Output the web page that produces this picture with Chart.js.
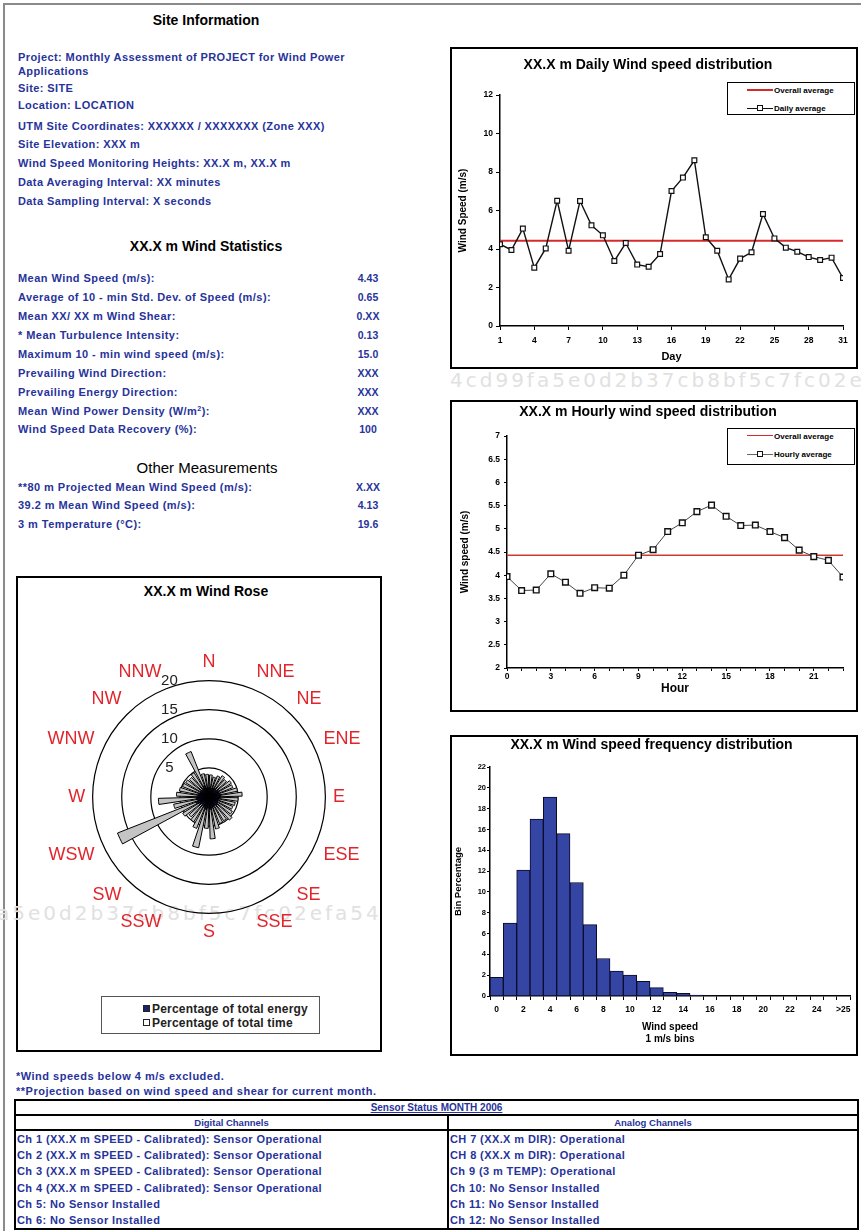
<!DOCTYPE html>
<html>
<head>
<meta charset="utf-8">
<title>Monthly wind assessment</title>
<script src="https://cdn.jsdelivr.net/npm/chart.js@4.4.1/dist/chart.umd.min.js"></script>
<style>
  html, body { margin: 0; padding: 0; background: #fff; }
  body { width: 861px; height: 1231px; position: relative; overflow: hidden; font-family: "Liberation Sans", Arial, sans-serif; }
  .frame { position: absolute; left: 3px; top: 3px; width: 870px; height: 1240px; border-left: 2px solid #8a8a8a; border-top: 2px solid #8a8a8a; }
  .t { position: absolute; white-space: nowrap; transform: translateY(-50%); }
  .head { font-weight: bold; font-size: 14px; color: #000; transform: translate(-50%, -50%); }
  .info { left: 18px; font-weight: bold; font-size: 11px; letter-spacing: 0.4px; color: #27339b; }
  .stat { left: 18px; font-weight: bold; font-size: 11px; letter-spacing: 0.45px; color: #27339b; }
  .val { left: 368px; font-weight: bold; font-size: 10.5px; color: #27339b; transform: translate(-50%, -50%); }
  .note { left: 16px; font-weight: bold; font-size: 11px; letter-spacing: 0.5px; color: #27339b; }
  .box { position: absolute; border: 2px solid #000; background: #fff; box-sizing: border-box; }
  canvas { position: absolute; }
  .wm { position: absolute; white-space: nowrap; font-family: "DejaVu Sans", sans-serif; font-size: 20px; letter-spacing: 3px; color: #e1e1e1; line-height: 20px; }
  .lg { position: absolute; border: 1px solid #000; background: #fff; box-sizing: border-box; font-weight: bold; font-size: 8px; color: #000; }
  .lg .row { position: absolute; left: 0; right: 0; height: 0; }
  .lg .ln { position: absolute; left: 19px; width: 26px; top: -1px; border-top: 2px solid #d7282c; }
  .lg .ln.thin { border-top: 1px solid #333; top: 0; }
  .lg .mk { position: absolute; left: 29px; top: -3px; width: 4px; height: 4px; border: 1px solid #111; background: #fff; }
  .lg .tx { position: absolute; left: 46px; top: 0; transform: translateY(-50%); white-space: nowrap; }
  .roselg { position: absolute; left: 101px; top: 996px; width: 219px; height: 38px; border: 1px solid #555; box-sizing: border-box; font-weight: bold; font-size: 12px; letter-spacing: 0.2px; color: #222; }
  .roselg .it { position: absolute; left: 41px; transform: translateY(-50%); white-space: nowrap; }
  .roselg .sq { display: inline-block; width: 5px; height: 5px; border: 1px solid #222; margin-right: 2px; vertical-align: 1px; }
  table.sensors { position: absolute; left: 14px; top: 1099px; width: 845px; border-collapse: collapse; font-weight: bold; font-size: 10px; color: #27339b; }
  table.sensors td { border: 2px solid #000; padding: 0 1px; vertical-align: top; white-space: nowrap; }
  table.sensors td.ttl { text-align: center; height: 13px; line-height: 13px; text-decoration: underline; }
  table.sensors td.hd { text-align: center; height: 13px; line-height: 13px; font-size: 9.5px; }
  table.sensors td.body { line-height: 16.2px; height: 97px; font-size: 11px; letter-spacing: 0.4px; }
</style>
</head>
<body>
<div class="frame"></div>

<!-- site information column -->
<div class="t head" style="left:206px;top:20px">Site Information</div>
<div class="t info" style="top:57px">Project: Monthly Assessment of PROJECT for Wind Power</div>
<div class="t info" style="top:71px">Applications</div>
<div class="t info" style="top:88px">Site: SITE</div>
<div class="t info" style="top:105px">Location: LOCATION</div>
<div class="t info" style="top:126px">UTM Site Coordinates: XXXXXX / XXXXXXX (Zone XXX)</div>
<div class="t info" style="top:144px">Site Elevation: XXX m</div>
<div class="t info" style="top:163px">Wind Speed Monitoring Heights: XX.X m, XX.X m</div>
<div class="t info" style="top:182px">Data Averaging Interval: XX minutes</div>
<div class="t info" style="top:201px">Data Sampling Interval: X seconds</div>

<div class="t head" style="left:206px;top:246px">XX.X m Wind Statistics</div>
<div class="t stat" style="top:278px">Mean Wind Speed (m/s):</div><div class="t val" style="top:278px">4.43</div>
<div class="t stat" style="top:297px">Average of 10 - min Std. Dev. of Speed (m/s):</div><div class="t val" style="top:297px">0.65</div>
<div class="t stat" style="top:316px">Mean XX/ XX m Wind Shear:</div><div class="t val" style="top:316px">0.XX</div>
<div class="t stat" style="top:335px">* Mean Turbulence Intensity:</div><div class="t val" style="top:335px">0.13</div>
<div class="t stat" style="top:354px">Maximum 10 - min wind speed (m/s):</div><div class="t val" style="top:354px">15.0</div>
<div class="t stat" style="top:373px">Prevailing Wind Direction:</div><div class="t val" style="top:373px">XXX</div>
<div class="t stat" style="top:392px">Prevailing Energy Direction:</div><div class="t val" style="top:392px">XXX</div>
<div class="t stat" style="top:411px">Mean Wind Power Density (W/m<sup style="font-size:7px">2</sup>):</div><div class="t val" style="top:411px">XXX</div>
<div class="t stat" style="top:429px">Wind Speed Data Recovery (%):</div><div class="t val" style="top:429px">100</div>

<div class="t head" style="left:207px;top:467px;font-weight:normal;font-size:15px">Other Measurements</div>
<div class="t stat" style="top:487px">**80 m Projected Mean Wind Speed (m/s):</div><div class="t val" style="top:487px">X.XX</div>
<div class="t stat" style="top:505px">39.2 m Mean Wind Speed (m/s):</div><div class="t val" style="top:505px">4.13</div>
<div class="t stat" style="top:524px">3 m Temperature (°C):</div><div class="t val" style="top:524px">19.6</div>

<!-- wind rose -->
<div class="box" style="left:16px;top:576px;width:366px;height:476px"></div>
<div class="wm" style="left:-3px;top:903px">a5e0d2b37cb8bf5c7fc02efa54</div>
<div class="t head" style="left:206px;top:591px">XX.X m Wind Rose</div>
<canvas id="rose" width="324" height="324" style="left:42px;top:636px"></canvas>
<div class="roselg">
  <div class="it" style="top:12px"><span class="sq" style="background:#1d2266"></span>Percentage of total energy</div>
  <div class="it" style="top:26px"><span class="sq" style="background:#fff"></span>Percentage of total time</div>
</div>

<!-- right column charts -->
<div class="box" style="left:450px;top:47px;width:408px;height:322px"></div>
<canvas id="daily" width="404" height="318" style="left:452px;top:49px"></canvas>
<div class="lg" style="left:727px;top:82px;width:128px;height:33px">
  <div class="row" style="top:7px"><span class="ln"></span><span class="tx">Overall average</span></div>
  <div class="row" style="top:25px"><span class="ln thin" style="border-color:#111"></span><span class="mk"></span><span class="tx">Daily average</span></div>
</div>

<div class="wm" style="left:450px;top:370px">4cd99fa5e0d2b37cb8bf5c7fc02efa54</div>

<div class="box" style="left:450px;top:400px;width:408px;height:312px"></div>
<canvas id="hourly" width="404" height="308" style="left:452px;top:402px"></canvas>
<div class="lg" style="left:727px;top:428px;width:128px;height:37px">
  <div class="row" style="top:7px"><span class="ln" style="border-top-width:1.5px"></span><span class="tx">Overall average</span></div>
  <div class="row" style="top:25px"><span class="ln thin" style="border-color:#666"></span><span class="mk"></span><span class="tx">Hourly average</span></div>
</div>

<div class="box" style="left:450px;top:735px;width:408px;height:321px"></div>
<canvas id="freq" width="404" height="317" style="left:452px;top:737px"></canvas>

<!-- footnotes and sensor table -->
<div class="t note" style="top:1076px">*Wind speeds below 4 m/s excluded.</div>
<div class="t note" style="top:1091px">**Projection based on wind speed and shear for current month.</div>
<table class="sensors">
  <tr><td class="ttl" colspan="2">Sensor Status MONTH 2006</td></tr>
  <tr><td class="hd" style="width:429px">Digital Channels</td><td class="hd">Analog Channels</td></tr>
  <tr>
    <td class="body">Ch 1 (XX.X m SPEED - Calibrated): Sensor Operational<br>Ch 2 (XX.X m SPEED - Calibrated): Sensor Operational<br>Ch 3 (XX.X m SPEED - Calibrated): Sensor Operational<br>Ch 4 (XX.X m SPEED - Calibrated): Sensor Operational<br>Ch 5: No Sensor Installed<br>Ch 6: No Sensor Installed</td>
    <td class="body">CH 7 (XX.X m DIR): Operational<br>CH 8 (XX.X m DIR): Operational<br>Ch 9 (3 m TEMP): Operational<br>Ch 10: No Sensor Installed<br>Ch 11: No Sensor Installed<br>Ch 12: No Sensor Installed</td>
  </tr>
</table>

<script>
// ---- data ----
const days = [1, 2, 3, 4, 5, 6, 7, 8, 9, 10, 11, 12, 13, 14, 15, 16, 17, 18, 19, 20, 21, 22, 23, 24, 25, 26, 27, 28, 29, 30, 31];
const dailyAvg = [4.25, 3.95, 5.06, 3.03, 4.03, 6.51, 3.91, 6.49, 5.23, 4.71, 3.38, 4.31, 3.19, 3.08, 3.74, 7.01,
                  7.71, 8.61, 4.61, 3.91, 2.42, 3.50, 3.83, 5.82, 4.55, 4.07, 3.86, 3.58, 3.43, 3.55, 2.49];
const overallAvg = 4.43;

const hours = [0, 1, 2, 3, 4, 5, 6, 7, 8, 9, 10, 11, 12, 13, 14, 15, 16, 17, 18, 19, 20, 21, 22, 23];
const hourlyAvg = [3.97, 3.67, 3.68, 4.03, 3.85, 3.61, 3.73, 3.72, 4.00, 4.43, 4.55, 4.94,
                   5.13, 5.37, 5.51, 5.27, 5.07, 5.08, 4.94, 4.81, 4.54, 4.40, 4.32, 3.96];

const speedBins = ['0', '1', '2', '3', '4', '5', '6', '7', '8', '9', '10', '11', '12', '13', '14', '15', '16',
                   '17', '18', '19', '20', '21', '22', '23', '24', '25', '>25'];
const binPct = [1.8, 7.0, 12.1, 17.0, 19.1, 15.6, 10.9, 6.85, 3.6, 2.4, 2.0, 1.4, 0.8, 0.35, 0.25, 0.1, 0.05,
                0, 0, 0, 0, 0, 0, 0, 0, 0, 0];

const compass = ['N', 'NNE', 'NE', 'ENE', 'E', 'ESE', 'SE', 'SSE', 'S', 'SSW', 'SW', 'WSW', 'W', 'WNW', 'NW', 'NNW'];
// 36 sectors of 10 degrees, clockwise from north
const sectorTimePct = [3.8, 3.5, 3.9, 4.3, 4.0, 4.5, 4.4, 5.0, 5.7, 5.0, 4.6, 4.4,
                       4.7, 5.3, 4.8, 4.9, 5.6, 7.2, 5.4, 8.9, 5.8, 5.0, 4.6, 5.3,
                       16.9, 6.2, 8.7, 5.6, 5.2, 4.9, 4.7, 4.5, 4.9, 8.4, 4.1, 3.9];
const sectorEnergyPct = [1.6, 1.5, 1.7, 1.8, 1.6, 1.9, 1.8, 1.9, 2.0, 1.9, 1.7, 1.6,
                         1.8, 1.9, 1.7, 1.8, 1.9, 2.1, 1.8, 2.2, 1.9, 1.8, 1.7, 1.9,
                         2.4, 2.0, 2.2, 1.9, 1.8, 1.7, 1.7, 1.6, 1.8, 2.1, 1.6, 1.6];

// ---- shared look ----
Chart.defaults.font.family = '"Liberation Sans", Arial, sans-serif';
Chart.defaults.color = '#000';
Chart.defaults.animation = false;
Chart.defaults.plugins.legend.display = false;
Chart.defaults.plugins.tooltip.enabled = false;

const tickFont = { size: 8.5, weight: 'bold' };

function axis(extra) {
    return Object.assign({
        grid: { drawOnChartArea: false, tickLength: 4, color: '#000' },
        border: { color: '#000', width: 1.5 }
    }, extra);
}

function chartTitle(text, top, bottom) {
    return { display: true, text, color: '#000', font: { size: 14, weight: 'bold' }, padding: { top, bottom } };
}

// Daily averages
new Chart(document.getElementById('daily'), {
    type: 'line',
    data: {
        datasets: [
            {
                label: 'Daily average', order: 0,
                data: days.map((d, i) => ({ x: d, y: dailyAvg[i] })),
                borderColor: '#111', borderWidth: 1.4,
                pointStyle: 'rect', pointRadius: 3.4,
                pointBackgroundColor: '#fff', pointBorderColor: '#111', pointBorderWidth: 1.2
            },
            {
                label: 'Overall average', order: 1,
                data: [{ x: days[0], y: overallAvg }, { x: days[days.length - 1], y: overallAvg }],
                borderColor: '#d7282c', borderWidth: 2, pointRadius: 0
            }
        ]
    },
    options: {
        responsive: false,
        layout: { padding: { left: 1, right: 13 } },
        plugins: { title: chartTitle('XX.X m Daily Wind speed distribution', 7.6, 21.6) },
        scales: {
            x: axis({
                type: 'linear', min: 1, max: 31,
                afterFit: s => { s.height = 41; },
                ticks: { stepSize: 3, font: tickFont, padding: 6, maxRotation: 0 },
                title: { display: true, text: 'Day', font: { size: 11, weight: 'bold' }, padding: { top: 0, bottom: 3 } }
            }),
            y: axis({
                min: 0, max: 12,
                afterFit: s => { s.width = 47; },
                ticks: { stepSize: 2, font: tickFont, padding: 3 },
                title: { display: true, text: 'Wind Speed (m/s)', font: { size: 10, weight: 'bold' }, padding: { top: 4, bottom: 0 } }
            })
        }
    }
});

// Hourly averages
new Chart(document.getElementById('hourly'), {
    type: 'line',
    data: {
        datasets: [
            {
                label: 'Hourly average', order: 0,
                data: hours.map((h, i) => ({ x: h, y: hourlyAvg[i] })),
                borderColor: '#444', borderWidth: 1,
                pointStyle: 'rect', pointRadius: 4,
                pointBackgroundColor: '#fff', pointBorderColor: '#111', pointBorderWidth: 1.4
            },
            {
                label: 'Overall average', order: 1,
                data: [{ x: hours[0], y: overallAvg }, { x: hours[hours.length - 1], y: overallAvg }],
                borderColor: '#cf3a30', borderWidth: 1.4, pointRadius: 0
            }
        ]
    },
    options: {
        responsive: false,
        layout: { padding: { left: 1, right: 13 } },
        plugins: { title: chartTitle('XX.X m Hourly wind speed distribution', 1.6, 15.6) },
        scales: {
            x: axis({
                type: 'linear', min: 0, max: 23,
                afterFit: s => { s.height = 42; },
                grid: { drawOnChartArea: false, tickLength: 3, color: '#000' },
                ticks: { stepSize: 1, autoSkip: false, maxRotation: 0, font: tickFont, padding: 1,
                         callback: v => (v % 3 === 0 ? String(v) : '') },
                title: { display: true, text: 'Hour', font: { size: 12, weight: 'bold' }, padding: { top: 0, bottom: 14 } }
            }),
            y: axis({
                min: 2, max: 7,
                afterFit: s => { s.width = 54; },
                grid: { drawOnChartArea: false, tickLength: 3, color: '#000' },
                ticks: { stepSize: 0.5, font: tickFont, padding: 4, callback: v => String(v) },
                title: { display: true, text: 'Wind speed (m/s)', font: { size: 10, weight: 'bold' }, padding: { top: 6, bottom: 0 } }
            })
        }
    }
});

// Frequency distribution, 1 m/s bins
new Chart(document.getElementById('freq'), {
    type: 'bar',
    data: {
        labels: speedBins,
        datasets: [{
            label: 'Bin Percentage',
            data: binPct,
            backgroundColor: '#3445a4', borderColor: '#0b0b2b', borderWidth: 1,
            barPercentage: 1, categoryPercentage: 1
        }]
    },
    options: {
        responsive: false,
        layout: { padding: { left: 1, right: 6 } },
        plugins: { title: chartTitle('XX.X m Wind speed frequency distribution', 0, 13.2) },
        scales: {
            x: axis({
                afterFit: s => { s.height = 58; },
                ticks: { autoSkip: false, maxRotation: 0, font: tickFont, padding: 5,
                         callback: (v, i) => (i % 2 === 0 ? speedBins[i] : '') },
                title: { display: true, text: ['Wind speed', '1 m/s bins'], font: { size: 10, weight: 'bold' }, padding: { top: 0, bottom: 9 } }
            }),
            y: axis({
                min: 0, max: 22,
                afterFit: s => { s.width = 37; },
                grid: { drawOnChartArea: false, tickLength: 3, color: '#000' },
                ticks: { stepSize: 2, font: { size: 7.5, weight: 'bold' }, padding: 1 },
                title: { display: true, text: 'Bin Percentage', font: { size: 9.5, weight: 'bold' }, padding: { top: 0, bottom: 0 } }
            })
        }
    }
});

// Wind rose: each 10 degree sector is a 7 degree wedge with 1.5 degree gaps either side
const sectorAngle = c => (c.dataIndex % 3 === 1 ? 7 : 1.5);
const toSectors = values => values.flatMap(v => [null, v, null]);

new Chart(document.getElementById('rose'), {
    type: 'polarArea',
    data: {
        labels: compass,
        datasets: [
            {
                label: 'Percentage of total energy',
                data: toSectors(sectorEnergyPct),
                backgroundColor: '#1d2266', borderColor: '#000', borderWidth: 1,
                angle: sectorAngle
            },
            {
                label: 'Percentage of total time',
                data: toSectors(sectorTimePct),
                backgroundColor: '#c4c4c4', borderColor: '#000', borderWidth: 1,
                angle: sectorAngle
            }
        ]
    },
    options: {
        responsive: false,
        scales: {
            r: {
                min: 0, max: 20, startAngle: 0,
                ticks: {
                    stepSize: 5, color: '#222', font: { size: 15 },
                    showLabelBackdrop: false, backdropPadding: 0,
                    // trailing spaces push the ring labels left of the north axis
                    callback: v => v + ' '.repeat(19)
                },
                grid: { circular: true, color: '#000', lineWidth: 1.2 },
                angleLines: { display: false },
                pointLabels: { display: true, color: '#e0262c', font: { size: 18 }, padding: 0 }
            }
        }
    }
});
</script>
</body>
</html>
